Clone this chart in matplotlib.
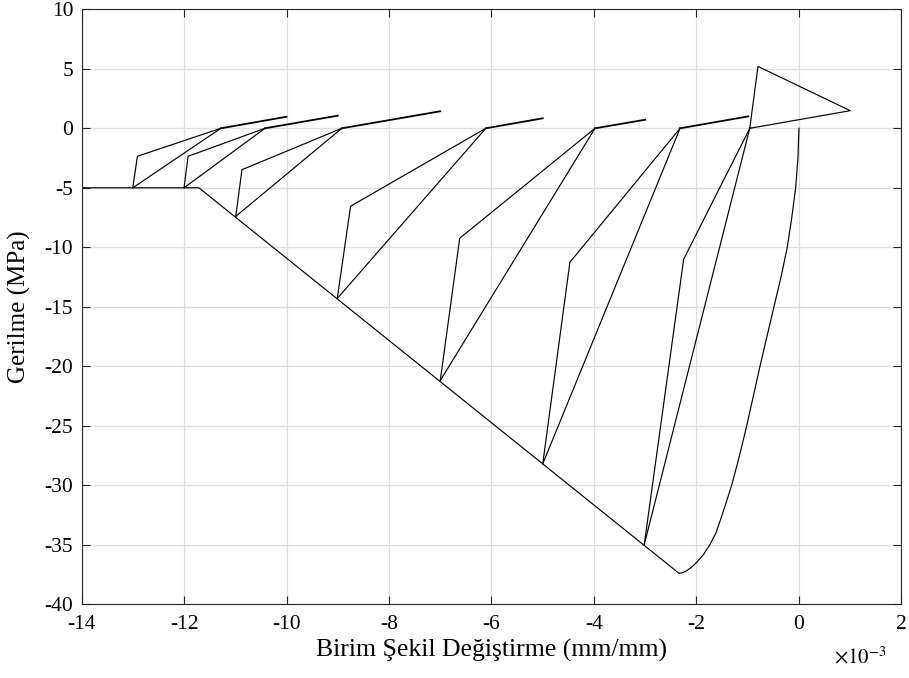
import matplotlib
matplotlib.use("Agg")
import matplotlib.pyplot as plt

plt.rcParams["font.family"] = ["Liberation Serif", "DejaVu Serif"]
plt.rcParams["mathtext.fontset"] = "stix"
plt.rcParams["axes.unicode_minus"] = False

# strain values in units of 1e-3 mm/mm, stress in MPa
# monotonic envelope: ascending branch, linear softening, residual plateau
env_strain = [0.0, -0.02, -0.065, -0.14, -0.228, -0.35, -0.488, -0.625, -0.761,
              -0.89, -1.02, -1.16, -1.313, -1.50, -1.62, -1.74, -1.86, -1.98,
              -2.1, -2.2, -2.28, -2.34, -11.71, -14.0]
env_stress = [0.0, -2.5, -5.0, -7.5, -10.0, -12.5, -15.0, -17.5, -20.0,
              -22.5, -25.0, -27.5, -30.0, -32.5, -34.0, -35.0, -35.8, -36.4,
              -36.9, -37.2, -37.35, -37.4, -5.0, -5.0]

# unloading start points on the envelope
unload_strain = [-3.02, -5.0, -7.0, -9.01, -10.99, -12.0, -13.0]
unload_stress = [-35.0, -28.2, -21.2, -14.3, -7.4, -5.0, -5.0]

# break point of each unloading branch
kink_strain = [-2.25, -4.47, -6.62, -8.75, -10.87, -11.92, -12.91]
kink_stress = [-11.0, -11.26, -9.24, -6.55, -3.48, -2.35, -2.35]

# strain where stress returns to zero
zero_strain = [-0.96, -2.32, -3.98, -6.11, -8.92, -10.42, -11.28]

# tension excursions (first cycle handled separately)
tens_strain = [None, -0.99, -3.0, -5.0, -7.0, -9.0, -10.0]
tens_stress = [None, 1.0, 0.72, 0.84, 1.43, 1.06, 0.97]

# first cycle tension: cracking peak then softening
t1_strain = [-0.96, -0.80, 1.0, -0.96]
t1_stress = [0.0, 5.2, 1.48, 0.0]

fig = plt.figure(figsize=(9.09, 6.78), dpi=100)
ax = fig.add_axes([0.0897, 0.1087, 0.902, 0.8776])

lw = 0.85
ax.plot(env_strain, env_stress, color="k", lw=lw)

for i in range(len(unload_strain)):
    # unloading
    ax.plot([unload_strain[i], kink_strain[i], zero_strain[i]],
            [unload_stress[i], kink_stress[i], 0.0], color="k", lw=lw)
    # reloading back to the envelope
    ax.plot([zero_strain[i], unload_strain[i]],
            [0.0, unload_stress[i]], color="k", lw=lw)
    if tens_strain[i] is not None:
        ax.plot([zero_strain[i], tens_strain[i]], [0.0, tens_stress[i]],
                color="k", lw=1.3)

ax.plot(t1_strain, t1_stress, color="k", lw=lw)

ax.set_xlim(-14, 2)
ax.set_ylim(-40, 10)
ax.set_xticks(range(-14, 3, 2))
ax.set_yticks(range(-40, 11, 5))

ax.grid(True, color="#dedede", lw=0.9)
ax.set_axisbelow(True)
ax.tick_params(direction="in", length=6, width=0.8, top=True, right=True,
               labelsize=15.5, colors="#262626", labelcolor="k")
ax.tick_params(axis="x", pad=8)
ax.tick_params(axis="y", pad=6)
for s in ax.spines.values():
    s.set_color("#262626")
    s.set_linewidth(0.8)

ax.set_xlabel("Birim Şekil Değiştirme (mm/mm)", fontsize=18.5, labelpad=3)
ax.set_ylabel("Gerilme (MPa)", fontsize=18, labelpad=10)

fig.text(0.918, 0.022, r"$\times10^{-3}$", fontsize=15, ha="left", va="baseline")

fig.savefig("out.png", dpi=100)
